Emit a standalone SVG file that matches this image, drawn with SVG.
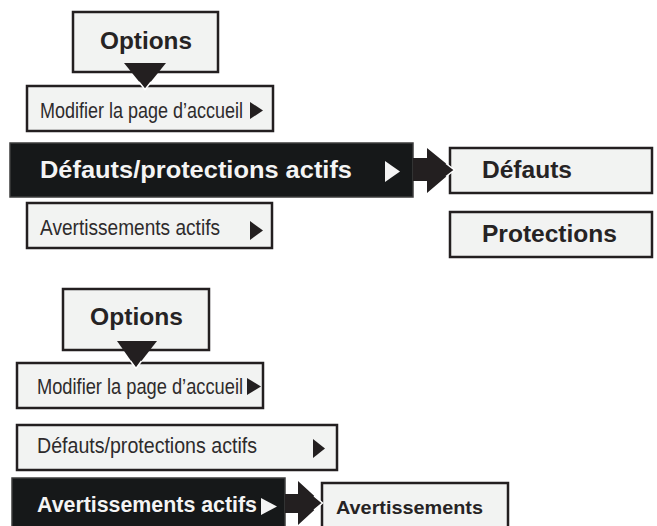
<svg xmlns="http://www.w3.org/2000/svg" width="657" height="526" viewBox="0 0 657 526">
  <style>
    .box { fill: #f2f3f2; stroke: #231f20; stroke-width: 2.5; }
    .bar { fill: #161819; stroke: #3d3d3d; stroke-width: 1.5; }
    .lbl { font-family: "Liberation Sans", Arial, sans-serif; fill: #262324; }
    .light { font-size: 22px; fill: #2e2b2c; }
    .bold { font-weight: bold; }
    .inv { fill: #f4f4f4; }
    .tri { fill: #231f20; }
    .wtri { fill: #f4f4f4; }
    .head { fill: #231f20; }
    .edge { fill: none; stroke: #ffffff; stroke-width: 1.5; stroke-linejoin: miter; }
  </style>
  <rect width="657" height="526" fill="#ffffff"/>

  <!-- upper menu -->
  <g id="options-1">
    <rect class="box" x="73" y="12" width="145" height="60"/>
    <text class="lbl bold" x="100" y="49" font-size="24" textLength="92" lengthAdjust="spacingAndGlyphs">Options</text>
  </g>
  <g id="modifier-1">
    <rect class="box" x="27" y="86" width="246" height="45"/>
    <text class="lbl light" x="40" y="118" textLength="203" lengthAdjust="spacingAndGlyphs">Modifier la page d’accueil</text>
    <polygon class="tri" points="250,102 263,110.5 250,119"/>
  </g>
  <g id="defauts-protections-1">
    <rect class="bar" x="10" y="143" width="403" height="54"/>
    <text class="lbl bold inv" x="40" y="178" font-size="24" textLength="312" lengthAdjust="spacingAndGlyphs">Défauts/protections actifs</text>
    <polygon class="wtri" points="385,161 400,171.5 385,182"/>
  </g>
  <g id="avertissements-actifs-1">
    <rect class="box" x="27" y="203" width="245" height="45"/>
    <text class="lbl light" x="40" y="235" textLength="180" lengthAdjust="spacingAndGlyphs">Avertissements actifs</text>
    <polygon class="tri" points="250,221 263,230.5 250,240"/>
  </g>
  <g id="defauts">
    <rect class="box" x="450" y="148" width="202" height="45"/>
    <text class="lbl bold" x="482" y="178" font-size="23" textLength="90" lengthAdjust="spacingAndGlyphs">Défauts</text>
  </g>
  <g id="protections">
    <rect class="box" x="450" y="212" width="202" height="45"/>
    <text class="lbl bold" x="482" y="242" font-size="23" textLength="135" lengthAdjust="spacingAndGlyphs">Protections</text>
  </g>

  <!-- lower menu -->
  <g id="options-2">
    <rect class="box" x="63" y="289" width="146" height="61"/>
    <text class="lbl bold" x="90" y="325" font-size="24" textLength="93" lengthAdjust="spacingAndGlyphs">Options</text>
  </g>
  <g id="modifier-2">
    <rect class="box" x="17" y="363" width="246" height="45"/>
    <text class="lbl light" x="37" y="394" textLength="206" lengthAdjust="spacingAndGlyphs">Modifier la page d’accueil</text>
    <polygon class="tri" points="247,378 261,386.5 247,395"/>
  </g>
  <g id="defauts-protections-2">
    <rect class="box" x="17" y="425" width="320" height="45"/>
    <text class="lbl light" x="37" y="453" textLength="220" lengthAdjust="spacingAndGlyphs">Défauts/protections actifs</text>
    <polygon class="tri" points="313,439 325,448.5 313,458"/>
  </g>
  <g id="avertissements-actifs-2">
    <rect class="bar" x="12" y="478" width="273" height="60"/>
    <text class="lbl bold inv" x="37" y="512" font-size="22" textLength="220" lengthAdjust="spacingAndGlyphs">Avertissements actifs</text>
    <polygon class="wtri" points="261,498 277,506.5 261,515"/>
  </g>
  <g id="avertissements">
    <rect class="box" x="322" y="483" width="186" height="60"/>
    <text class="lbl bold" x="336" y="514" font-size="18" textLength="147" lengthAdjust="spacingAndGlyphs">Avertissements</text>
  </g>

  <!-- connectors: drop pointers and side arrows -->
  <g id="connectors">
    <polygon class="head" points="124,63 166,63 145,89"/>
    <polyline class="edge" points="139,82 145,89.5 151,82"/>

    <polygon class="head" points="413,158 427,158 427,148 454,170 427,193 427,181 413,181"/>
    <polyline class="edge" points="446,163.5 454.5,170 446,176.5"/>

    <polygon class="head" points="117,341 157,341 136,368"/>
    <polyline class="edge" points="130.5,361 136,368.5 141.5,361"/>

    <polygon class="head" points="285,494 298,494 298,481 322,503 298,525 298,513 285,513"/>
    <polyline class="edge" points="314,496 322.5,503 314,510"/>
  </g>
</svg>
